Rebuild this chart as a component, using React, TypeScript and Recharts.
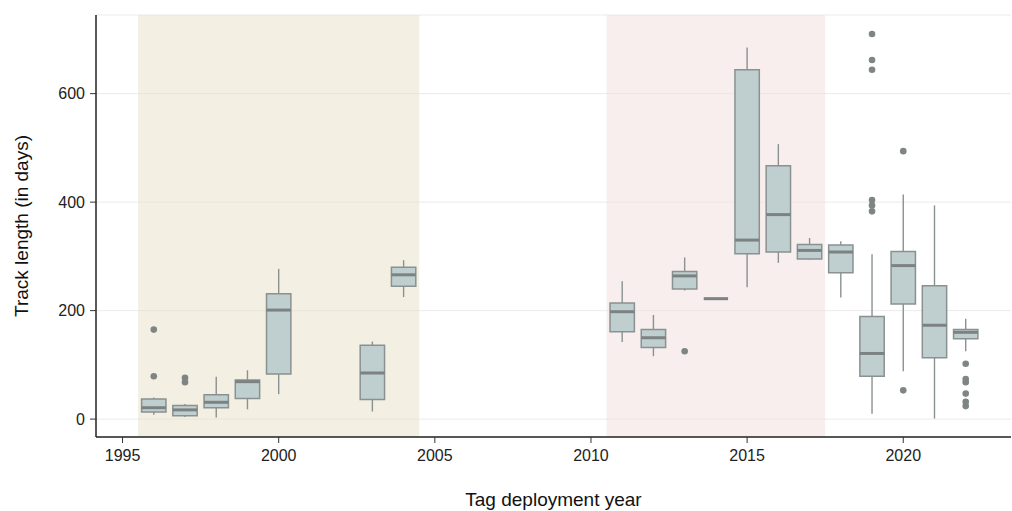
import {
  ComposedChart,
  CartesianGrid,
  XAxis,
  YAxis,
  Scatter,
  ReferenceArea,
  ReferenceLine,
} from "recharts";

// one entry per deployment year (box plot summary, in days)
const years = [1996, 1997, 1998, 1999, 2000, 2003, 2004, 2011, 2012, 2013, 2014, 2015, 2016, 2017, 2018, 2019, 2020, 2021, 2022];
const lowWhisker = [8, 4, 3, 18, 46, 14, 225, 142, 116, 237, 222, 243, 288, 294, 224, 10, 88, 1, 125];
const lowerQuartile = [13, 6, 21, 38, 83, 36, 245, 161, 132, 240, 222, 305, 308, 295, 270, 79, 212, 113, 148];
const medians = [21, 17, 31, 69, 201, 85, 266, 198, 150, 264, 222, 330, 377, 311, 308, 121, 283, 173, 160];
const upperQuartile = [37, 25, 45, 72, 231, 136, 280, 214, 165, 272, 222, 644, 467, 322, 321, 189, 309, 246, 165];
const highWhisker = [40, 28, 78, 90, 277, 143, 293, 254, 192, 298, 222, 685, 507, 334, 328, 304, 414, 394, 185];

// outlying tracks
const outlierYears = [1996, 1996, 1997, 1997, 2013, 2019, 2019, 2019, 2019, 2019, 2019, 2020, 2020, 2022, 2022, 2022, 2022, 2022, 2022];
const outlierValues = [165, 79, 76, 68, 125, 710, 662, 644, 404, 394, 383, 494, 53, 102, 74, 68, 47, 32, 24];

// tagging periods shaded in the background
const periods = [
  { from: 1995.5, to: 2004.5, color: "#e8dfc5" },
  { from: 2010.5, to: 2017.5, color: "#f3dddd" },
];

const xTicks = [1995, 2000, 2005, 2010, 2015, 2020];
const yTicks = [0, 200, 400, 600];

const outliers = outlierYears.map((year, i) => ({ year, value: outlierValues[i] }));

const boxFill = "#bfcfcf";
const boxLine = "#8a9191";
const medianLine = "#7c8282";
const halfWidth = 0.39;
const font = "'Liberation Sans', Arial, Helvetica, sans-serif";

const Dot = (props: any) => <circle cx={props.cx} cy={props.cy} r={3.3} fill="#7f8585" />;

export default function App() {
  return (
    <div style={{ position: "absolute", left: 0, top: 0 }}>
      <ComposedChart width={1012} height={511} margin={{ top: 15, right: 1, left: 0, bottom: 0 }}>
        <CartesianGrid vertical={false} stroke="#ebebeb" strokeWidth={1} />
        {periods.map((p) => (
          <ReferenceArea key={p.from} x1={p.from} x2={p.to} fill={p.color} fillOpacity={0.5} stroke="none" />
        ))}
        <XAxis
          dataKey="year"
          type="number"
          domain={[1994.15, 2023.45]}
          ticks={xTicks}
          allowDataOverflow
          height={74}
          tickSize={6}
          tickMargin={7}
          axisLine={{ stroke: "#222", strokeWidth: 1.5 }}
          tickLine={{ stroke: "#333" }}
          tick={{ fill: "#222", fontSize: 16, fontFamily: font }}
          label={{
            value: "Tag deployment year",
            position: "insideBottom",
            offset: 5,
            style: { fill: "#111", fontSize: 19, fontFamily: font },
          }}
        />
        <YAxis
          type="number"
          domain={[-33, 745]}
          ticks={yTicks}
          allowDataOverflow
          width={96}
          tickSize={6}
          tickMargin={5}
          axisLine={{ stroke: "#222", strokeWidth: 1.5 }}
          tickLine={{ stroke: "#333" }}
          tick={{ fill: "#222", fontSize: 16, fontFamily: font }}
          label={{
            value: "Track length (in days)",
            angle: -90,
            position: "insideLeft",
            offset: 21,
            style: { textAnchor: "middle", fill: "#111", fontSize: 19, fontFamily: font },
          }}
        />
        {years.map((yr, i) => (
          <ReferenceLine
            key={"hi" + yr}
            segment={[{ x: yr, y: upperQuartile[i] }, { x: yr, y: highWhisker[i] }]}
            stroke={boxLine}
            strokeWidth={1.4}
          />
        ))}
        {years.map((yr, i) => (
          <ReferenceLine
            key={"lo" + yr}
            segment={[{ x: yr, y: lowWhisker[i] }, { x: yr, y: lowerQuartile[i] }]}
            stroke={boxLine}
            strokeWidth={1.4}
          />
        ))}
        {years.map((yr, i) => (
          <ReferenceArea
            key={"box" + yr}
            x1={yr - halfWidth}
            x2={yr + halfWidth}
            y1={lowerQuartile[i]}
            y2={upperQuartile[i]}
            fill={boxFill}
            fillOpacity={1}
            stroke={boxLine}
            strokeWidth={1.5}
          />
        ))}
        {years.map((yr, i) => (
          <ReferenceLine
            key={"med" + yr}
            segment={[{ x: yr - halfWidth, y: medians[i] }, { x: yr + halfWidth, y: medians[i] }]}
            stroke={medianLine}
            strokeWidth={3}
          />
        ))}
        <Scatter data={outliers} dataKey="value" shape={Dot} isAnimationActive={false} />
      </ComposedChart>
    </div>
  );
}
